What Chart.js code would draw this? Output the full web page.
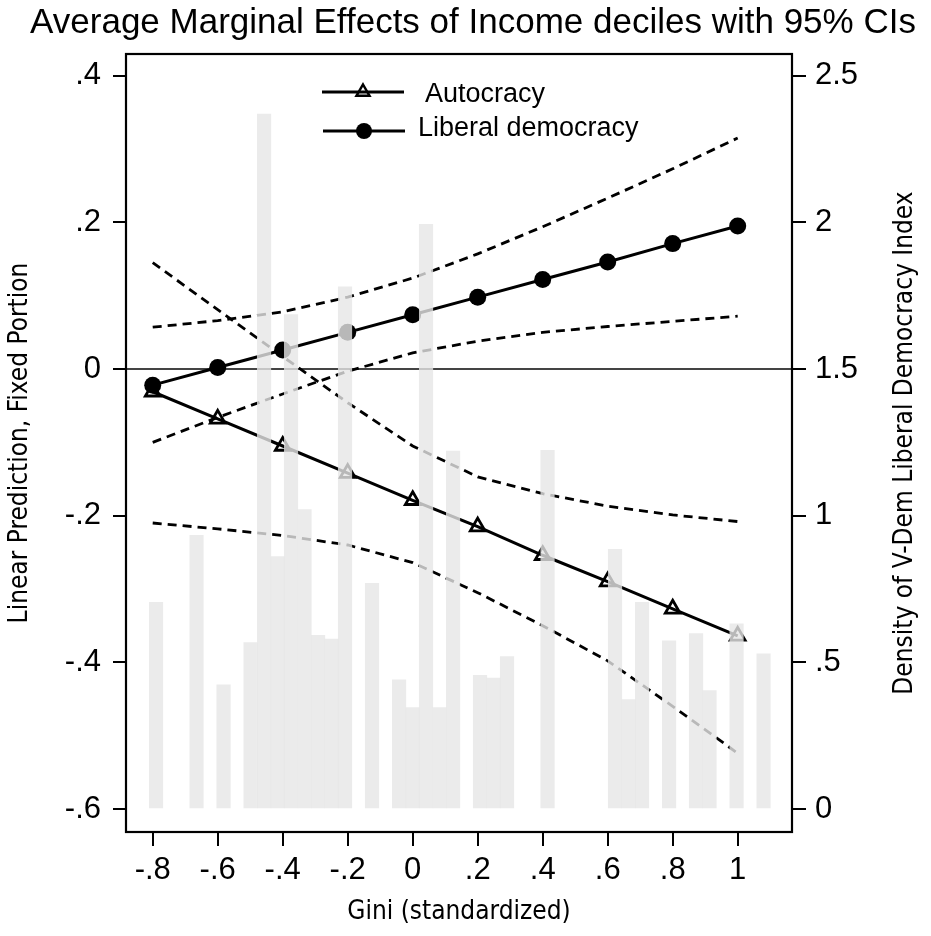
<!DOCTYPE html>
<html>
<head>
<meta charset="utf-8">
<script src="https://cdn.jsdelivr.net/npm/chart.js@4.4.1/dist/chart.umd.min.js"></script>
<style>
  html, body { margin: 0; padding: 0; background: #fff; }
  #c { display: block; }
</style>
</head>
<body>
<canvas id="c" width="931" height="936"></canvas>
<script>
// Gini grid where the margins were evaluated
const giniGrid = [-0.8, -0.6, -0.4, -0.2, 0, 0.2, 0.4, 0.6, 0.8, 1];

// Autocracy: estimate and 95% CI bounds
const autocracy   = [-0.031, -0.068, -0.105, -0.142, -0.179, -0.215, -0.254, -0.290, -0.327, -0.364];
const autocracyHi = [0.145, 0.081, 0.017, -0.046, -0.105, -0.147, -0.170, -0.187, -0.199, -0.208];
const autocracyLo = [-0.210, -0.218, -0.227, -0.240, -0.264, -0.305, -0.350, -0.398, -0.460, -0.524];

// Liberal democracy: estimate and 95% CI bounds
const libdem   = [-0.022, 0.002, 0.026, 0.050, 0.074, 0.098, 0.122, 0.146, 0.171, 0.195];
const libdemHi = [0.057, 0.066, 0.078, 0.098, 0.124, 0.157, 0.194, 0.233, 0.273, 0.315];
const libdemLo = [-0.100, -0.066, -0.034, -0.003, 0.022, 0.038, 0.050, 0.058, 0.065, 0.072];

// histogram of the V-Dem index (bin centres on the gini axis, density)
const histBins = [-0.7897, -0.6651, -0.5820, -0.4989, -0.4574, -0.4159, -0.3743, -0.3328, -0.2912,
  -0.2497, -0.2082, -0.1251, -0.0420, -0.0005, 0.0411, 0.0826, 0.1242, 0.2072, 0.2488, 0.2903,
  0.4149, 0.6226, 0.6642, 0.7057, 0.7888, 0.8719, 0.9134, 0.9965, 1.0796];
const histDensity = [0.705, 0.933, 0.423, 0.567, 2.369, 0.861, 1.686, 1.021, 0.592,
  0.579, 1.780, 0.769, 0.440, 0.346, 1.993, 0.346, 1.220, 0.456, 0.446, 0.520,
  1.223, 0.885, 0.373, 0.705, 0.573, 0.598, 0.404, 0.631, 0.529];

// tick labels
const xTicks = [-0.8, -0.6, -0.4, -0.2, 0, 0.2, 0.4, 0.6, 0.8, 1];
const yTicks = [0.4, 0.2, 0, -0.2, -0.4, -0.6];
const y2Ticks = [2.5, 2, 1.5, 1, 0.5, 0];

const FONT = '"Liberation Sans", Arial, Helvetica, sans-serif';
const NARROW = '"Liberation Sans Narrow", "DejaVu Sans Condensed", Arial, sans-serif';

const pts = (ys) => giniGrid.map((x, i) => ({ x, y: ys[i] }));
const stataFmt = (v) => String(v).replace(/^(-?)0\./, "$1.");
const fixTicks = (list) => (s) => { s.ticks = list.map((v) => ({ value: v })); };

const ciLine = (ys) => ({
  type: "line",
  data: pts(ys),
  yAxisID: "y",
  borderColor: "#000",
  borderWidth: 2.8,
  borderDash: [9, 6],
  pointRadius: 0,
  fill: false,
  tension: 0,
  order: 2,
});

const overlay = {
  id: "overlay",
  afterDraw(chart) {
    const { ctx, chartArea: a } = chart;
    ctx.save();
    // frame
    ctx.strokeStyle = "#000";
    ctx.lineWidth = 2.2;
    ctx.strokeRect(a.left, a.top, a.right - a.left, a.bottom - a.top);

    // title
    ctx.fillStyle = "#000";
    ctx.textAlign = "center";
    ctx.textBaseline = "alphabetic";
    ctx.font = "35px " + FONT;
    ctx.fillText("Average Marginal Effects of Income deciles with 95% CIs", 473, 33);

    // axis titles
    ctx.font = "26px " + NARROW;
    ctx.textBaseline = "middle";
    ctx.fillText("Gini (standardized)", (a.left + a.right) / 2, 912);
    const midY = (a.top + a.bottom) / 2;
    ctx.save();
    ctx.translate(20, midY);
    ctx.rotate(-Math.PI / 2);
    ctx.fillText("Linear Prediction, Fixed Portion", 0, 0);
    ctx.restore();
    ctx.save();
    ctx.translate(905, midY);
    ctx.rotate(-Math.PI / 2);
    ctx.fillText("Density of V-Dem Liberal Democracy Index", 0, 0);
    ctx.restore();

    // legend
    const lx = a.left + 196;
    ctx.lineWidth = 3;
    ctx.beginPath();
    ctx.moveTo(lx, 92); ctx.lineTo(lx + 82, 92);
    ctx.moveTo(lx + 1, 131); ctx.lineTo(lx + 83, 131);
    ctx.stroke();
    // triangle
    const tr = 7.5;
    ctx.beginPath();
    ctx.moveTo(lx + 41, 92 - tr);
    ctx.lineTo(lx + 41 + tr * 0.866, 92 + tr * 0.5);
    ctx.lineTo(lx + 41 - tr * 0.866, 92 + tr * 0.5);
    ctx.closePath();
    ctx.lineWidth = 2.5;
    ctx.stroke();
    // circle
    ctx.beginPath();
    ctx.arc(lx + 42, 131, 8, 0, Math.PI * 2);
    ctx.fill();
    ctx.font = "27px " + FONT;
    ctx.textAlign = "left";
    ctx.textBaseline = "alphabetic";
    ctx.fillText("Autocracy", lx + 103, 102);
    ctx.fillText("Liberal democracy", lx + 96, 136);
    ctx.restore();
  },
};

const tickFont = { family: FONT, size: 31 };

new Chart(document.getElementById("c").getContext("2d"), {
  type: "bar",
  data: {
    datasets: [
      {
        type: "bar",
        data: histBins.map((x, i) => ({ x, y: histDensity[i] })),
        yAxisID: "y2",
        backgroundColor: "rgba(230,230,230,0.8)",
        borderWidth: 0,
        barPercentage: 1,
        categoryPercentage: 1,
        order: 0,
      },
      ciLine(autocracyHi),
      ciLine(autocracyLo),
      ciLine(libdemHi),
      ciLine(libdemLo),
      {
        type: "line",
        label: "Autocracy",
        data: pts(autocracy),
        yAxisID: "y",
        borderColor: "#000",
        borderWidth: 3,
        pointStyle: "triangle",
        pointRadius: 8.5,
        pointBorderWidth: 2.8,
        pointBackgroundColor: "rgba(255,255,255,0)",
        pointBorderColor: "#000",
        tension: 0,
        order: 1,
      },
      {
        type: "line",
        label: "Liberal democracy",
        data: pts(libdem),
        yAxisID: "y",
        borderColor: "#000",
        borderWidth: 3,
        pointStyle: "circle",
        pointRadius: 8.5,
        pointBorderWidth: 0,
        pointBackgroundColor: "#000",
        tension: 0,
        order: 1,
      },
    ],
  },
  plugins: [overlay],
  options: {
    responsive: false,
    animation: false,
    devicePixelRatio: 1,
    layout: { padding: { top: 54, left: 0, right: 0, bottom: 0 } },
    plugins: {
      legend: { display: false },
      title: { display: false },
      tooltip: { enabled: false },
    },
    scales: {
      x: {
        type: "linear",
        position: "bottom",
        min: -0.8822,
        max: 1.1671,
        offset: false,
        afterBuildTicks: fixTicks(xTicks),
        afterFit: (s) => { s.height = 104; },
        grid: { drawOnChartArea: false, color: "#000", lineWidth: 2, tickLength: 14, offset: false },
        border: { display: true, color: "#000", width: 2 },
        ticks: { color: "#000", font: tickFont, padding: 6, maxRotation: 0, autoSkip: false, callback: stataFmt },
      },
      y: {
        type: "linear",
        position: "left",
        min: -0.6314,
        max: 0.4296,
        afterBuildTicks: fixTicks(yTicks),
        afterFit: (s) => { s.width = 126; },
        grid: {
          drawOnChartArea: true,
          color: (c) => (c.tick && c.tick.value === 0 ? "#444" : "rgba(0,0,0,0)"),
          lineWidth: 2,
          tickColor: "#000",
          tickWidth: 2,
          tickLength: 13,
        },
        border: { display: true, color: "#000", width: 2 },
        ticks: { color: "#000", font: tickFont, padding: 12, autoSkip: false, callback: stataFmt },
      },
      y2: {
        type: "linear",
        position: "right",
        min: -0.0784,
        max: 2.574,
        afterBuildTicks: fixTicks(y2Ticks),
        afterFit: (s) => { s.width = 139; },
        grid: { drawOnChartArea: false, color: "#000", lineWidth: 2, tickLength: 14 },
        border: { display: true, color: "#000", width: 2 },
        ticks: { color: "#000", font: tickFont, padding: 9, autoSkip: false, callback: stataFmt },
      },
    },
  },
});
</script>
</body>
</html>
